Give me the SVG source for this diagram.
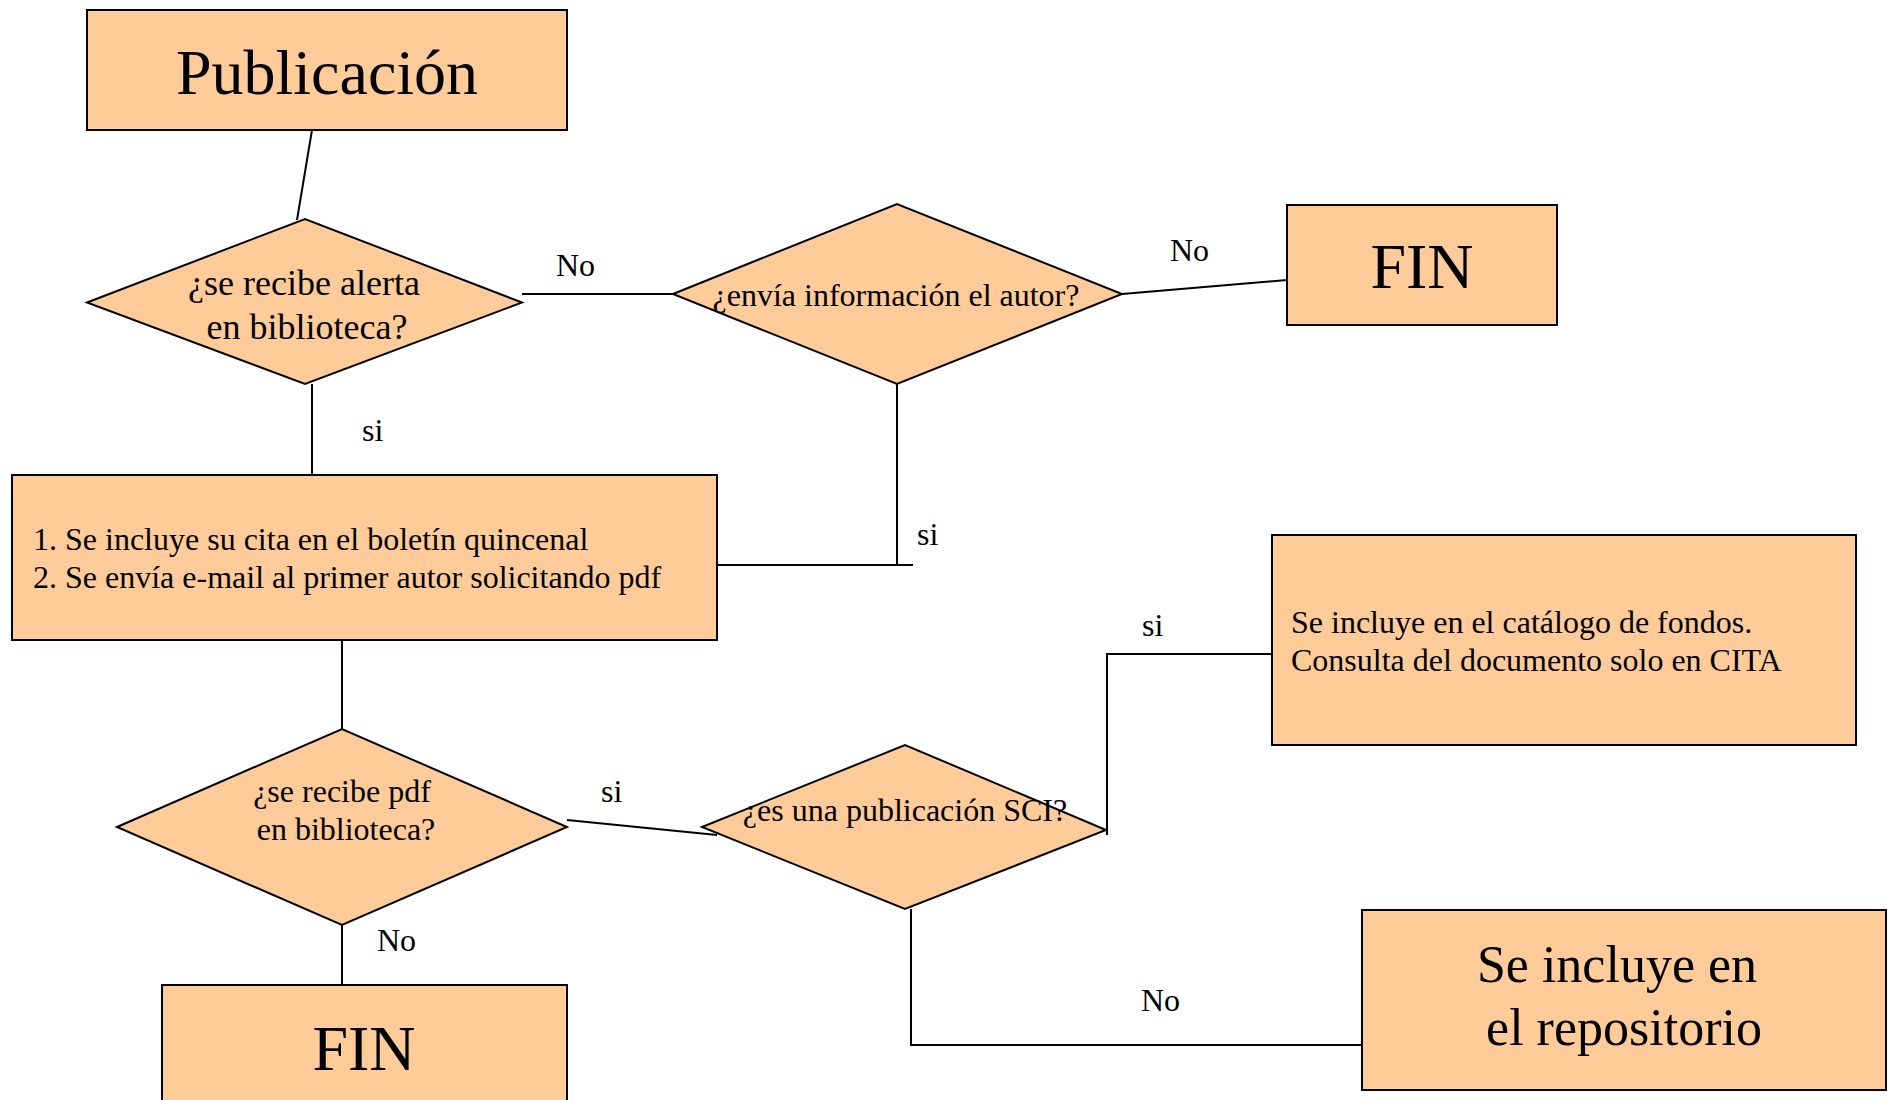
<svg xmlns="http://www.w3.org/2000/svg" width="1890" height="1100" viewBox="0 0 1890 1100">
<style>
.shape{fill:#FFCC99;stroke:#000;stroke-width:2}
.conn{fill:none;stroke:#000;stroke-width:2}
text{font-family:"Liberation Serif","Times New Roman",serif;fill:#000}
.lbl{font-size:32px}
.big{font-size:64px}
.mid{font-size:32px}
</style>
<rect width="1890" height="1100" fill="#fff"/>
<g id="connectors">
<polyline class="conn" points="312,130 297,220"/>
<polyline class="conn" points="522,294 673,294"/>
<polyline class="conn" points="1122,294 1287,280"/>
<polyline class="conn" points="312,384 312,475"/>
<polyline class="conn" points="897,384 897,565"/>
<polyline class="conn" points="717,565 913,565"/>
<polyline class="conn" points="342,640 342,729"/>
<polyline class="conn" points="342,925 342,985"/>
<polyline class="conn" points="567,820 717,835"/>
<polyline class="conn" points="1107,835 1107,654 1272,654"/>
<polyline class="conn" points="911,909 911,1045 1362,1045"/>
</g>
<g id="publicacion">
<rect class="shape" x="87" y="10" width="480" height="120"/>
<text class="big" x="327" y="94" text-anchor="middle">Publicación</text>
</g>
<g id="alerta">
<polygon class="shape" points="87,302.5 305,219 522,302.5 305,384"/>
<text x="304" y="295" font-size="36" text-anchor="middle">¿se recibe alerta</text>
<text x="307" y="339" font-size="36" text-anchor="middle">en biblioteca?</text>
</g>
<g id="envia">
<polygon class="shape" points="673,294 897,204 1122,294 897,384"/>
<text class="mid" x="896" y="306" text-anchor="middle">¿envía información el autor?</text>
</g>
<g id="fin1">
<rect class="shape" x="1287" y="205" width="270" height="120"/>
<text class="big" x="1422" y="288" text-anchor="middle">FIN</text>
</g>
<g id="cita">
<rect class="shape" x="12" y="475" width="705" height="165"/>
<text class="mid" x="33" y="550">1. Se incluye su cita en el boletín quincenal</text>
<text class="mid" x="33" y="588">2. Se envía e-mail al primer autor solicitando pdf</text>
</g>
<g id="pdf">
<polygon class="shape" points="117,827 342,729 567,827 342,925"/>
<text class="mid" x="342" y="802" text-anchor="middle">¿se recibe pdf</text>
<text class="mid" x="346" y="840" text-anchor="middle">en biblioteca?</text>
</g>
<g id="fin2">
<rect class="shape" x="162" y="985" width="405" height="130"/>
<text class="big" x="364" y="1070" text-anchor="middle">FIN</text>
</g>
<g id="sci">
<polygon class="shape" points="702,827 905,745 1106,830 905,909"/>
<text class="mid" x="905" y="821" text-anchor="middle">¿es una publicación SCI?</text>
</g>
<g id="catalogo">
<rect class="shape" x="1272" y="535" width="584" height="210"/>
<text class="mid" x="1291" y="633">Se incluye en el catálogo de fondos.</text>
<text class="mid" x="1291" y="671">Consulta del documento solo en CITA</text>
</g>
<g id="repositorio">
<rect class="shape" x="1362" y="910" width="524" height="180"/>
<text x="1617" y="982" font-size="52" text-anchor="middle">Se incluye en</text>
<text x="1624" y="1045" font-size="52" text-anchor="middle">el repositorio</text>
</g>
<g id="labels">
<text class="lbl" x="556" y="276">No</text>
<text class="lbl" x="1170" y="261">No</text>
<text class="lbl" x="362" y="441">si</text>
<text class="lbl" x="917" y="545">si</text>
<text class="lbl" x="601" y="802">si</text>
<text class="lbl" x="377" y="951">No</text>
<text class="lbl" x="1142" y="636">si</text>
<text class="lbl" x="1141" y="1011">No</text>
</g>
</svg>
